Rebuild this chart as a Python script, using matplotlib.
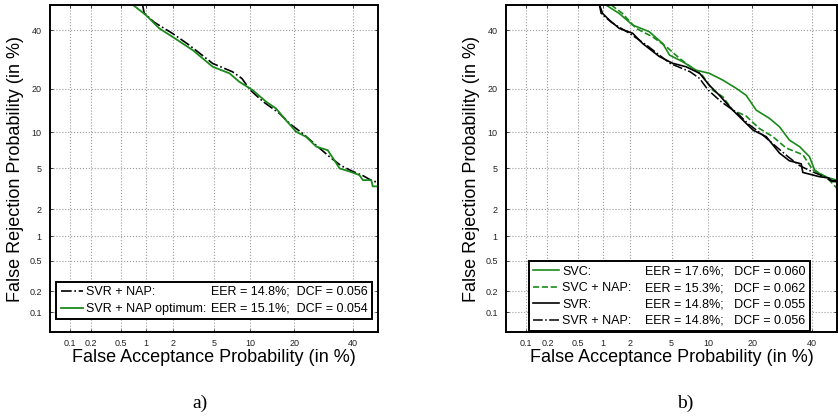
import numpy as np
import matplotlib
matplotlib.use('Agg')
import matplotlib.pyplot as plt
from matplotlib.lines import Line2D
from statistics import NormalDist

plt.rcParams['font.family'] = ['Liberation Sans', 'DejaVu Sans']

# DET curves (false acceptance %, false rejection %)
# panel a)
svr_nap_fa = [0.91, 0.95, 1.24, 1.97, 2.92, 4.87, 7.2, 8.6, 10.0, 12.5, 16.1, 19.0,
              22.5, 26.5, 31.3, 35.5, 40.0, 44.0, 48.0, 50]
svr_nap_fr = [50, 46.7, 43.1, 38.7, 34.3, 27.8, 25.1, 23.0, 19.6, 16.5, 13.8, 11.5,
              9.8, 8.0, 6.35, 5.3, 4.7, 4.3, 3.8, 3.75]
svr_opt_fa = [0.7, 1.0, 1.41, 1.97, 3.15, 4.87, 6.8, 8.2, 10.4, 13.1, 15.3, 17.8, 20.6,
              23.5, 26.8, 30.7, 33.7, 35, 38.7, 42.6, 44, 47.3, 47.9, 50]
svr_opt_fr = [50, 45.9, 40.7, 37.4, 32.5, 26.7, 24.6, 22.0, 19.6, 16.5, 14.9, 12.3, 10.1,
              9.25, 7.7, 7.2, 5.6, 5.0, 4.7, 4.35, 3.9, 3.9, 3.4, 3.4]

# panel b)
svc_fa = [1.08, 1.52, 2.11, 3.1, 4.16, 4.8, 6.25, 8.06, 10.2, 12.8, 15.8, 18.3, 21.1,
          25.1, 28.4, 31.8, 35.5, 39.2, 41.2, 42.5, 45, 50]
svc_fr = [50, 46.6, 42, 39.4, 34.9, 30.7, 28.4, 25.6, 24.6, 22.5, 20.1, 18.2, 14.5,
          12.7, 11.0, 8.7, 7.7, 6.35, 4.85, 4.6, 4.2, 3.9]
svc_nap_fa = [1.24, 1.65, 2.29, 3.35, 4.47, 5.86, 7.58, 9.1, 10.8, 12.8, 15, 18.3, 22,
              26.2, 30.7, 36.7, 40.5, 45.7, 50]
svc_nap_fr = [50, 46.6, 40.7, 37.4, 33.8, 29.6, 26.2, 23.8, 19.6, 17.8, 14.5, 13.2, 10.7,
              9.25, 7.5, 6.6, 4.85, 4.2, 3.25]
svr_fa = [0.91, 0.99, 1.18, 1.52, 2.11, 2.67, 3.87, 5.1, 6.68, 8.6, 10.2, 12.1, 15, 18.3,
          20.2, 24.1, 28.4, 31.8, 36.1, 36.7, 43.1, 46.5, 48, 50]
svr_fr = [50, 46.6, 44, 40.7, 38.8, 34.9, 30.2, 27.9, 26.7, 24.6, 21, 18.2, 14.5, 11.7,
          10.4, 9.25, 6.8, 5.85, 5.5, 4.6, 4.2, 4.1, 3.85, 3.85]

ticks = [0.1, 0.2, 0.5, 1, 2, 5, 10, 20, 40]
tick_labels = ['0.1', '0.2', '0.5', '1', '2', '5', '10', '20', '40']

green = '#1a8a1a'

# probit (normal deviate) scale for DET plots
_nd = NormalDist()
_ppf = np.vectorize(lambda p: _nd.inv_cdf(min(max(p, 1e-9), 1 - 1e-9)), otypes=[float])
_cdf = np.vectorize(_nd.cdf, otypes=[float])


def fwd(x):
    return _ppf(np.asarray(x, dtype=float) / 100.0)


def inv(y):
    return _cdf(np.asarray(y, dtype=float)) * 100.0


def setup_axes(ax):
    ax.set_xscale('function', functions=(fwd, inv))
    ax.set_yscale('function', functions=(fwd, inv))
    ax.set_xlim(0.05, 50)
    ax.set_ylim(0.05, 50)
    ax.set_xticks(ticks)
    ax.set_xticklabels(tick_labels)
    ax.set_yticks(ticks)
    ax.set_yticklabels(tick_labels)
    ax.minorticks_off()
    ax.tick_params(direction='in', length=2, width=0.6, labelsize=6.5,
                   top=True, right=True, colors='#222222')
    ax.tick_params(axis='x', pad=5)
    ax.tick_params(axis='y', pad=6)
    ax.grid(True, linestyle=':', color='#9a9a9a', linewidth=0.8)
    for s in ax.spines.values():
        s.set_linewidth(1.4)
    ax.set_xlabel('False Acceptance Probability (in %)', fontsize=13, labelpad=1)
    ax.set_ylabel('False Rejection Probability (in %)', fontsize=13, labelpad=3.5)


fig = plt.figure(figsize=(8.38, 4.16), dpi=100)
ax1 = fig.add_axes([50 / 838, 84 / 416, 328 / 838, 327 / 416])
ax2 = fig.add_axes([506 / 838, 84 / 416, 331 / 838, 327 / 416])

blank = Line2D([], [], linestyle='none')

# a)
setup_axes(ax1)
l1, = ax1.plot(svr_nap_fa, svr_nap_fr, color='black', linestyle='-.', linewidth=1.2)
l2, = ax1.plot(svr_opt_fa, svr_opt_fr, color=green, linestyle='-', linewidth=1.3)
leg1 = ax1.legend([l1, l2, blank, blank],
                  ['SVR + NAP:', 'SVR + NAP optimum:',
                   'EER = 14.8%;  DCF = 0.056', 'EER = 15.1%;  DCF = 0.054'],
                  ncol=2, loc='center', mode='expand',
                  bbox_to_anchor=(0.0, 0.043, 1.0, 0.107),
                  fontsize=9, handlelength=1.8, handletextpad=0.2,
                  labelspacing=0.4, borderpad=0.35, fancybox=False,
                  edgecolor='black', framealpha=1)
leg1.get_frame().set_linewidth(1.4)

# b)
setup_axes(ax2)
m1, = ax2.plot(svc_fa, svc_fr, color=green, linestyle='-', linewidth=1.2)
m2, = ax2.plot(svc_nap_fa, svc_nap_fr, color=green, linestyle='--', linewidth=1.2)
m3, = ax2.plot(svr_fa, svr_fr, color='black', linestyle='-', linewidth=1.2)
m4, = ax2.plot(svr_nap_fa, svr_nap_fr, color='black', linestyle='-.', linewidth=1.1)
leg2 = ax2.legend([m1, m2, m3, m4, blank, blank, blank, blank],
                  ['SVC:', 'SVC + NAP:', 'SVR:', 'SVR + NAP:',
                   'EER = 17.6%;   DCF = 0.060', 'EER = 15.3%;   DCF = 0.062',
                   'EER = 14.8%;   DCF = 0.055', 'EER = 14.8%;   DCF = 0.056'],
                  ncol=2, loc='center', mode='expand',
                  bbox_to_anchor=(0.05, 0.006, 0.886, 0.206),
                  fontsize=9, handlelength=2.1, handletextpad=0.2,
                  labelspacing=0.35, borderpad=0.35, fancybox=False,
                  edgecolor='black', framealpha=1)
leg2.get_frame().set_linewidth(1.4)

fig.text(200 / 838, 1 - 403 / 416, 'a)', family='Liberation Serif', fontsize=14,
         ha='center', va='center')
fig.text(685 / 838, 1 - 403 / 416, 'b)', family='Liberation Serif', fontsize=14,
         ha='center', va='center')

fig.savefig('out.png', dpi=100)
